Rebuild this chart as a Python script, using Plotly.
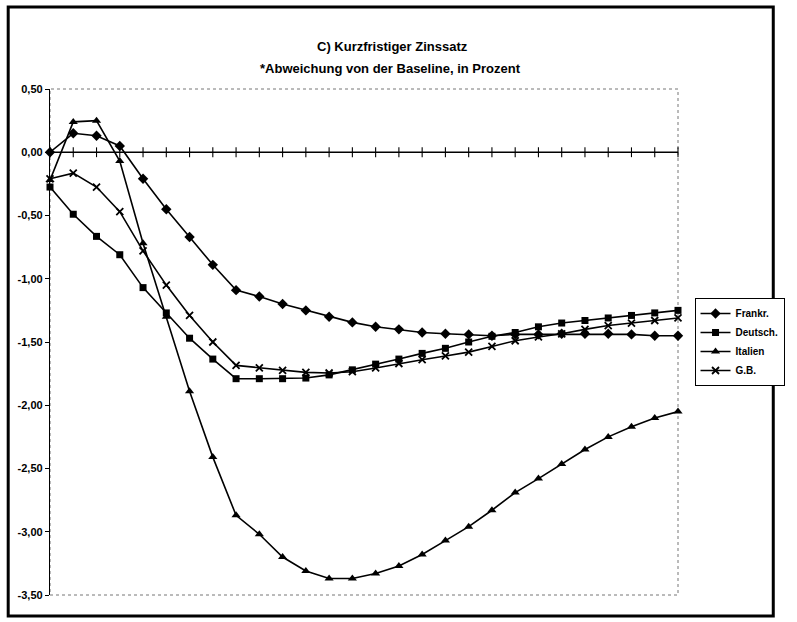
import plotly.graph_objects as go

# Quarter index of the simulation horizon (28 periods)
periods = list(range(28))

frankreich = [0.00, 0.15, 0.13, 0.05, -0.21, -0.45, -0.67, -0.89, -1.09, -1.14,
              -1.20, -1.25, -1.30, -1.345, -1.38, -1.40, -1.425, -1.435, -1.44, -1.45,
              -1.44, -1.44, -1.435, -1.435, -1.435, -1.44, -1.45, -1.45]
deutschland = [-0.275, -0.49, -0.665, -0.81, -1.07, -1.27, -1.47, -1.635, -1.79, -1.79,
               -1.79, -1.785, -1.76, -1.72, -1.675, -1.635, -1.59, -1.55, -1.50, -1.455,
               -1.425, -1.38, -1.35, -1.33, -1.31, -1.29, -1.27, -1.25]
italien = [-0.22, 0.24, 0.25, -0.07, -0.72, -1.30, -1.89, -2.41, -2.87, -3.02,
           -3.20, -3.31, -3.37, -3.37, -3.33, -3.27, -3.18, -3.07, -2.96, -2.83,
           -2.69, -2.58, -2.465, -2.35, -2.25, -2.17, -2.10, -2.05]
grossbritannien = [-0.21, -0.165, -0.275, -0.47, -0.78, -1.05, -1.29, -1.50, -1.685, -1.705,
                   -1.725, -1.74, -1.745, -1.735, -1.705, -1.67, -1.64, -1.61, -1.58, -1.535,
                   -1.49, -1.46, -1.435, -1.40, -1.37, -1.35, -1.33, -1.31]

series_names = ["Frankr.", "Deutsch.", "Italien", "G.B."]
y_ticks = [0.5, 0.0, -0.5, -1.0, -1.5, -2.0, -2.5, -3.0, -3.5]
y_tick_text = ["0,50", "0,00", "-0,50", "-1,00", "-1,50", "-2,00", "-2,50", "-3,00", "-3,50"]

FONT = "Liberation Sans Narrow, Arial Narrow, Liberation Sans, Arial, sans-serif"
W, H = 797, 622
ML, MR, MT, MB = 50, 101, 89, 27
PW, PH = W - ML - MR, H - MT - MB


def px_x(px):
    return (px - ML) / PW


def px_y(py):
    return (H - MB - py) / PH


fig = go.Figure()

# category axis at zero with crossing tick marks
fig.add_trace(go.Scatter(
    x=periods, y=[0] * len(periods), mode="lines+markers",
    line=dict(color="black", width=1.3),
    marker=dict(symbol="line-ns-open", size=7, line=dict(color="black", width=1.1)),
    showlegend=False, hoverinfo="skip", cliponaxis=False,
))

styles = [
    dict(symbol="diamond", size=8),
    dict(symbol="square", size=7),
    dict(symbol="triangle-up", size=8),
    dict(symbol="x-thin-open", size=7, line=dict(color="black", width=1.8)),
]
for name, vals, st in zip(series_names, [frankreich, deutschland, italien, grossbritannien], styles):
    fig.add_trace(go.Scatter(
        x=periods, y=vals, mode="lines+markers", name=name,
        line=dict(color="black", width=1.6),
        marker=dict(color="black", **st),
        cliponaxis=False,
    ))

shapes = [
    # dotted plot-area border
    dict(type="rect", xref="paper", yref="paper", x0=0, x1=1, y0=0, y1=1,
         line=dict(color="#777", width=1, dash="dot"), layer="below"),
    # outer frame
    dict(type="rect", xref="paper", yref="paper",
         x0=px_x(7), x1=px_x(794), y0=px_y(616), y1=px_y(7),
         line=dict(color="black", width=3)),
]

fig.update_layout(
    width=W, height=H,
    margin=dict(l=ML, r=MR, t=MT, b=MB, pad=0),
    paper_bgcolor="white", plot_bgcolor="white",
    font=dict(family=FONT, color="black", size=10),
    showlegend=True,
    legend=dict(x=px_x(713), y=px_y(298), xanchor="left", yanchor="top",
                bordercolor="black", borderwidth=1, bgcolor="white",
                font=dict(family=FONT, size=10, weight="bold"), itemwidth=30,
                entrywidth=60, entrywidthmode="pixels",
                tracegroupgap=3),
    shapes=shapes,
    annotations=[
        dict(text="<b>C) Kurzfristiger Zinssatz</b>", xref="paper", yref="paper",
             x=px_x(402), y=px_y(37), showarrow=False, font=dict(family=FONT, size=13)),
        dict(text="<b>*Abweichung von der Baseline, in Prozent</b>", xref="paper", yref="paper",
             x=px_x(400), y=px_y(59), showarrow=False, font=dict(family=FONT, size=13)),
    ],
    xaxis=dict(range=[0, 27], showgrid=False, zeroline=False, showline=False,
               showticklabels=False, ticks=""),
    yaxis=dict(range=[-3.5, 0.5], tickvals=y_ticks, ticktext=y_tick_text,
               showgrid=False, zeroline=False, showline=True, linecolor="black", linewidth=1.3,
               ticks="outside", ticklen=4, tickcolor="black",
               tickfont=dict(family=FONT, size=11, weight="bold")),
    hovermode=False,
)

fig.write_html("out.html")
